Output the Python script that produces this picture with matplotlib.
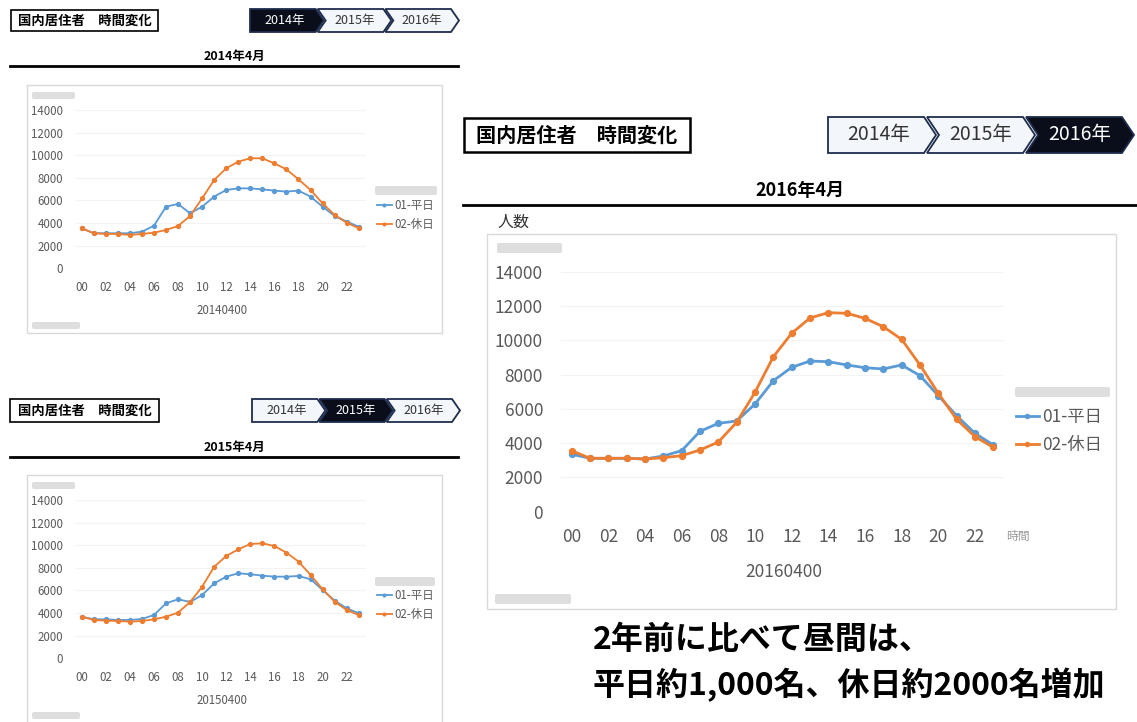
import matplotlib.pyplot as plt
from matplotlib.patches import Rectangle, Polygon, FancyBboxPatch

W, H = 1137, 722
plt.rcParams['font.family'] = ['Noto Sans CJK JP', 'DejaVu Sans']

# data (people per hour, April)
hours = list(range(24))
hour_labels = [f'{h:02d}' for h in hours]
years = ['2014年', '2015年', '2016年']
series_names = ['01-平日', '02-休日']

weekday_2014 = [3540, 3100, 3100, 3100, 3100, 3240, 3770, 5450, 5690, 4860, 5450, 6340,
                6930, 7070, 7070, 6980, 6870, 6780, 6870, 6340, 5450, 4630, 4130, 3680]
holiday_2014 = [3540, 3100, 3040, 3040, 2950, 3040, 3150, 3390, 3740, 4630, 6190, 7810,
                8840, 9430, 9730, 9730, 9280, 8750, 7870, 6930, 5750, 4720, 4040, 3540]

weekday_2015 = [3680, 3450, 3450, 3390, 3390, 3480, 3830, 4860, 5220, 4980, 5600, 6630,
                7220, 7520, 7430, 7310, 7220, 7220, 7280, 6990, 6040, 5100, 4420, 3980]
holiday_2015 = [3680, 3390, 3330, 3300, 3240, 3300, 3450, 3680, 4040, 4980, 6340, 8100,
                9050, 9640, 10110, 10170, 9930, 9340, 8550, 7370, 6100, 5010, 4270, 3830]

weekday_2016 = [3350, 3115, 3115, 3115, 3075, 3250, 3560, 4690, 5155, 5290, 6280, 7640,
                8420, 8790, 8750, 8560, 8400, 8325, 8560, 7935, 6770, 5600, 4570, 3890]
holiday_2016 = [3560, 3115, 3115, 3115, 3075, 3150, 3270, 3600, 4065, 5215, 6965, 9040,
                10405, 11300, 11610, 11575, 11280, 10790, 10055, 8560, 6905, 5390, 4375, 3755]

BLUE = '#5B9BD5'
ORANGE = '#ED7D31'
GREY = '#595959'
NAVY = '#1f2d4d'

fig = plt.figure(figsize=(W / 100, H / 100), dpi=100)
bg = fig.add_axes([0, 0, 1, 1], zorder=0)
bg.set_xlim(0, W)
bg.set_ylim(H, 0)
bg.axis('off')


def px_axes(x0, y0, x1, y1):
    return fig.add_axes([x0 / W, 1 - y1 / H, (x1 - x0) / W, (y1 - y0) / H], zorder=2)


def header(x0, y0, x1, y1, size, lw):
    bg.add_patch(Rectangle((x0, y0), x1 - x0, y1 - y0, fill=False, ec='black', lw=lw))
    bg.text((x0 + x1) / 2, (y0 + y1) / 2, '国内居住者　時間変化', ha='center', va='center',
            fontsize=size, fontweight='bold')


def breadcrumb(x0, x1, y0, y1, active, size, depth, gap):
    seg = (x1 - x0 - depth) / 3
    ym = (y0 + y1) / 2
    for i, label in enumerate(years):
        s = x0 + i * seg
        e = s + seg - gap
        pts = [(s, y0), (e, y0), (e + depth, ym), (e, y1), (s, y1)]
        if i > 0:
            pts.append((s + depth, ym))
        on = i == active
        bg.add_patch(Polygon(pts, closed=True, fc='#0a0e1a' if on else '#f3f7fc',
                             ec=NAVY, lw=1.3))
        cx = (s + e) / 2 + (depth / 2 if i > 0 else depth / 4)
        bg.text(cx, ym, label, ha='center', va='center', fontsize=size,
                color='white' if on else '#333333')


def title(text, x0, x1, y_text, y_line, size, lw):
    bg.text((x0 + x1) / 2, y_text, text, ha='center', va='center', fontsize=size,
            fontweight='bold')
    bg.plot([x0, x1], [y_line, y_line], color='black', lw=lw)


def button(x0, y0, x1, y1):
    bg.add_patch(FancyBboxPatch((x0, y0), x1 - x0, y1 - y0, boxstyle='round,pad=0,rounding_size=2',
                                fc='#dedede', ec='none', zorder=3))


def chart(box, frame, weekday, holiday, s, xlabel, xlabel_pos, legend_pos, pads):
    fx0, fy0, fx1, fy1 = frame
    bg.add_patch(Rectangle((fx0, fy0), fx1 - fx0, fy1 - fy0, fill=False, ec='#d9d9d9', lw=1))
    ax = px_axes(*box)
    ax.set_facecolor('none')
    l1, = ax.plot(hours, weekday, color=BLUE, lw=2.0 * s, marker='o', ms=4.2 * s,
                  label=series_names[0], clip_on=False)
    l2, = ax.plot(hours, holiday, color=ORANGE, lw=2.0 * s, marker='o', ms=4.2 * s,
                  label=series_names[1], clip_on=False)
    ax.set_xlim(-0.6, 23.6)
    ax.set_ylim(0, 14000)
    ax.set_yticks(range(0, 14001, 2000))
    ax.set_xticks(hours[::2])
    ax.set_xticklabels(hour_labels[::2])
    ax.grid(axis='y', color='#f3f3f3', lw=0.8)
    ax.set_axisbelow(True)
    for sp in ax.spines.values():
        sp.set_visible(False)
    ax.tick_params(length=0, colors=GREY, labelsize=12.5 * s)
    ax.tick_params(axis='y', pad=pads[0])
    ax.tick_params(axis='x', pad=pads[1])
    bg.text(xlabel_pos[0], xlabel_pos[1], xlabel, ha='center', va='center',
            fontsize=12.5 * s, color=GREY)
    fig.legend(handles=[l1, l2], loc='center left',
               bbox_to_anchor=(legend_pos[0] / W, 1 - legend_pos[1] / H),
               frameon=False, fontsize=12.5 * s, handlelength=1.3, handletextpad=0.2,
               labelspacing=0.6 if s == 1 else 0.45, borderpad=0, borderaxespad=0,
               labelcolor=GREY, markerscale=0.7)
    return ax


# ---- 2014 (top left) ----
header(11, 10, 158, 31, 9.6, 1.2)
breadcrumb(250, 461, 9, 32, 0, 9, 8, 2)
title('2014年4月', 10, 458, 56, 66, 9, 2)
chart((74.5, 110, 365.9, 268.3), (27, 85, 442, 333), weekday_2014, holiday_2014, 0.66,
      '20140400', (222, 310), (377, 215), (8.3, 9.5))
button(32, 92, 75, 99)
button(32, 322, 80, 329)
button(375, 186, 437, 195)

# ---- 2015 (bottom left) ----
header(10, 399, 159, 422, 9.6, 1.2)
breadcrumb(252, 462, 399, 422, 1, 9, 8, 2)
title('2015年4月', 10, 458, 447, 457, 9, 2)
chart((74.5, 500, 366, 658.3), (27, 475, 442, 740), weekday_2015, holiday_2015, 0.66,
      '20150400', (222, 701), (377, 605), (8.3, 9.5))
button(32, 482, 75, 489)
button(32, 712, 80, 719)
button(375, 577, 435, 586)

# ---- 2016 (right, large) ----
header(464, 118, 690, 152, 14.5, 1.8)
breadcrumb(828, 1137, 117, 153, 2, 14, 12, 3)
title('2016年4月', 463, 1137, 191, 205, 13, 2)
bg.text(497, 222, '人数', ha='left', va='center', fontsize=11.5, color='#333333')
chart((560.7, 271.7, 1004.3, 511.7), (487, 234, 1116, 609), weekday_2016, holiday_2016, 1.0,
      '20160400', (784, 572), (1016, 431), (12.7, 11.5))
bg.text(1006, 536, '時間', ha='left', va='center', fontsize=8.5, color='#999999')
button(497, 243, 562, 253)
button(495, 594, 571, 604)
button(1015, 387, 1110, 397)

bg.text(593, 640, '2年前に比べて昼間は、', ha='left', va='center', fontsize=23,
        fontweight='bold')
bg.text(593, 685, '平日約1,000名、休日約2000名増加', ha='left', va='center', fontsize=23,
        fontweight='bold')

fig.savefig('out.png', dpi=100)
